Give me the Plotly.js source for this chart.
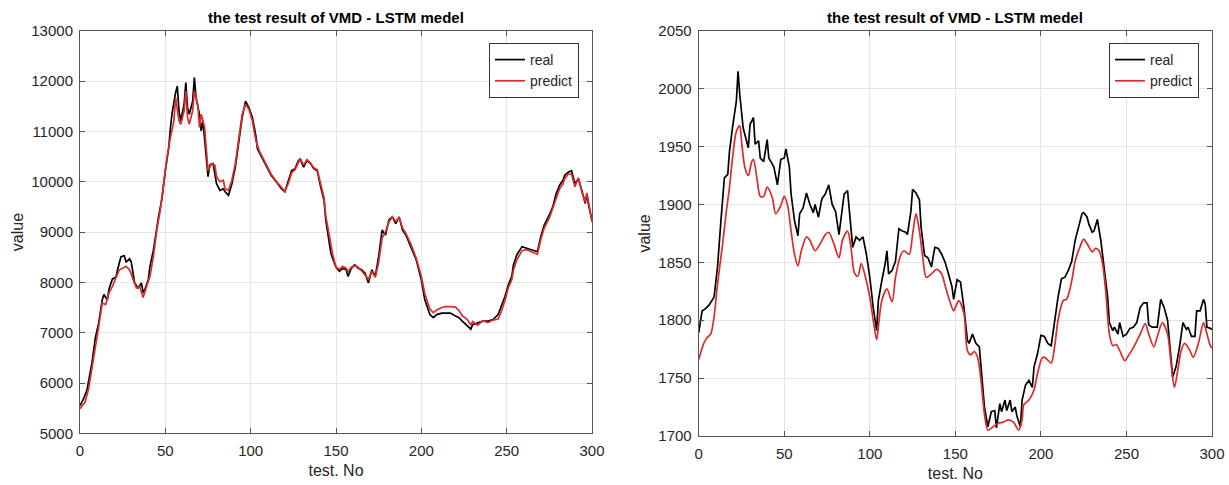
<!DOCTYPE html>
<html>
<head>
<meta charset="utf-8">
<script src="https://cdn.plot.ly/plotly-3.0.1.min.js"></script>
<style>html,body{margin:0;padding:0;background:#fff;}#chart{width:1229px;height:485px;}</style>
</head>
<body>
<div id="chart"></div>
<script>
// ---------- Left panel data ----------
const leftRealX = [0,2,4,5,7,9,11,13,14,16,17,19,21,22,24,26,27,29,30,32,34,36,37,38,40,41,43,46,48,50,52,53,54,56,57,58,59,61,62,63,64,66,67,68,70,71,72,73,75,76,78,80,82,84,85,87,89,91,93,95,97,99,101,103,104,106,108,110,112,115,118,120,122,124,126,128,129,131,133,135,137,139,141,143,144,146,147,148,150,152,154,156,157,159,161,163,165,167,169,171,173,175,177,179,181,183,185,187,189,191,194,197,200,202,205,207,209,212,214,217,220,222,224,227,229,230,233,236,239,242,245,247,249,251,253,254,256,259,262,265,268,270,272,275,277,279,281,283,284,286,288,290,292,294,296,297,298,300];
const leftReal = [5550,5680,5850,6010,6400,6900,7200,7650,7760,7650,7870,8070,8100,8250,8510,8530,8400,8470,8410,7990,7890,7990,7790,7860,8050,8320,8640,9300,9660,10220,10680,11080,11375,11770,11900,11410,11210,11540,11970,11470,11340,11600,12070,11670,11340,11010,11210,10850,10100,10330,10360,9960,9830,9860,9800,9730,9960,10290,10750,11280,11600,11470,11280,10920,10650,10520,10390,10260,10130,10000,9860,9800,10000,10220,10260,10420,10450,10290,10420,10360,10260,10220,9900,9630,9240,8840,8580,8480,8300,8220,8280,8250,8120,8280,8350,8280,8250,8180,7990,8250,8120,8510,9040,8940,9240,9300,9170,9300,9040,8940,8710,8450,8050,7660,7360,7300,7360,7390,7390,7390,7330,7300,7230,7130,7070,7160,7200,7230,7230,7260,7360,7530,7720,7950,8120,8350,8550,8710,8680,8640,8610,8910,9140,9340,9500,9760,9930,10030,10130,10190,10220,9960,10060,9830,9570,9760,9530,9240];
const leftPredX = [0,3,5,8,11,13,15,17,19,21,23,25,27,29,31,33,35,37,39,41,43,45,47,49,51,53,55,56,58,59,61,62,63,64,66,67,69,70,71,73,74,75,77,79,80,82,84,85,87,89,91,93,95,97,99,101,103,105,107,108,110,112,115,118,120,122,124,126,128,129,131,133,135,137,139,141,143,144,146,147,148,150,152,154,156,157,159,161,163,165,167,169,171,173,175,177,179,181,183,185,187,189,191,194,197,200,202,205,207,209,212,214,217,220,222,224,227,229,230,233,236,239,242,245,247,249,251,253,254,256,259,262,265,268,270,272,275,277,279,281,283,284,286,288,290,292,294,296,297,298,300];
const leftPred = [5490,5620,5880,6470,7130,7590,7560,7790,7920,8090,8250,8280,8320,8250,8050,7890,7920,7700,7920,8120,8510,9040,9430,9960,10490,10880,11210,11670,11210,11140,11410,11800,11280,11140,11410,11800,11540,11080,11340,11080,10620,10220,10360,10330,10100,10000,10030,9860,9830,10030,10360,10820,11340,11540,11440,11210,10820,10620,10490,10400,10280,10150,10010,9880,9810,9960,10180,10240,10400,10460,10330,10440,10370,10280,10240,9950,9680,9320,8950,8700,8560,8300,8260,8320,8280,8210,8300,8330,8300,8230,8150,8060,8220,8100,8400,8880,9000,9200,9300,9210,9290,9080,8970,8750,8480,8120,7780,7470,7400,7450,7500,7520,7520,7510,7440,7340,7260,7150,7220,7150,7240,7200,7250,7270,7430,7640,7900,8050,8250,8450,8630,8650,8600,8560,8850,9080,9280,9460,9680,9860,9960,10060,10150,10150,9900,10080,9800,9600,9780,9560,9200];

// ---------- Right panel data ----------
const rightRealX = [0,2,4,6,9,11,13,15,17,18,20,22,23,24,26,27,29,30,32,33,35,36,38,40,41,43,44,46,48,50,51,53,54,56,58,59,61,63,65,67,68,70,72,74,76,78,80,82,84,85,87,89,90,92,94,96,98,100,102,104,105,107,109,110,111,113,115,117,119,121,122,124,125,127,129,130,132,134,136,138,140,142,144,146,148,149,151,153,155,157,158,160,162,164,165,167,169,171,173,174,176,177,179,180,182,183,185,186,188,189,191,193,195,196,198,200,202,204,206,208,210,212,214,216,218,220,222,224,225,227,228,230,231,233,235,237,239,240,242,243,245,246,248,250,252,254,256,258,260,262,263,265,268,270,272,274,276,277,279,281,283,285,286,288,290,291,293,295,296,297,299,300];
const rightReal = [1789,1808,1810,1813,1820,1846,1886,1923,1926,1946,1969,1989,2015,1995,1966,1960,1949,1969,1975,1952,1955,1940,1937,1956,1940,1935,1932,1917,1939,1940,1948,1932,1909,1886,1873,1892,1897,1910,1900,1893,1900,1889,1905,1909,1917,1900,1894,1874,1900,1909,1912,1880,1863,1872,1869,1872,1857,1837,1811,1791,1817,1834,1849,1860,1840,1843,1851,1879,1877,1876,1874,1894,1913,1910,1904,1880,1856,1854,1846,1863,1862,1857,1850,1840,1829,1818,1835,1833,1811,1783,1780,1788,1780,1777,1757,1725,1708,1721,1722,1707,1728,1721,1731,1722,1731,1721,1725,1717,1708,1731,1744,1748,1742,1760,1771,1787,1786,1780,1778,1800,1820,1836,1837,1843,1851,1869,1880,1892,1893,1889,1883,1876,1877,1887,1869,1846,1820,1798,1791,1794,1788,1798,1786,1788,1793,1794,1798,1811,1815,1815,1796,1794,1794,1818,1811,1800,1771,1751,1760,1777,1798,1792,1794,1786,1786,1808,1808,1818,1814,1794,1793,1792];
const rightPredX = [0,3,5,7,9,11,14,16,18,20,22,24,25,27,29,31,32,34,36,38,40,43,45,48,50,52,54,56,58,60,63,65,68,71,74,76,79,82,84,87,89,91,93,95,97,100,102,104,105,107,110,113,115,118,120,123,125,127,129,131,133,136,139,142,144,146,149,150,152,155,157,159,161,163,165,167,169,172,175,178,181,184,187,189,190,193,196,198,201,203,206,208,210,213,215,218,220,223,225,227,230,232,234,236,238,240,242,244,246,249,251,255,258,261,263,266,268,271,274,276,278,280,282,284,287,289,292,295,296,299,300];
const rightPred = [1766,1780,1785,1788,1803,1831,1866,1892,1915,1943,1963,1968,1955,1932,1925,1937,1939,1923,1907,1907,1915,1906,1892,1899,1907,1899,1877,1857,1847,1860,1872,1869,1860,1866,1874,1876,1866,1854,1869,1877,1863,1841,1838,1849,1840,1820,1800,1783,1794,1817,1827,1816,1837,1856,1860,1857,1874,1892,1877,1854,1837,1840,1844,1840,1830,1820,1808,1811,1817,1806,1774,1770,1773,1768,1748,1719,1705,1708,1711,1712,1714,1712,1705,1714,1727,1731,1740,1754,1768,1767,1763,1777,1800,1817,1818,1834,1851,1864,1870,1866,1859,1862,1860,1849,1823,1788,1778,1779,1774,1765,1769,1779,1788,1797,1788,1777,1786,1798,1788,1763,1742,1757,1774,1780,1774,1768,1780,1798,1794,1778,1776];

const seriesNames = ['real', 'predict'];
const panelTitle = 'the test result of VMD - LSTM medel';
const xTitle = 'test. No';
const yTitle = 'value';

const FONT = 'Liberation Sans, Arial, Helvetica, sans-serif';
const TXT = '#262626';
const realColor = '#000000';
const predColor = '#dd2a2a';

const traces = [
  {x: leftRealX, y: leftReal, name: seriesNames[0], type: 'scatter', mode: 'lines',
   line: {color: realColor, width: 1.7}, xaxis: 'x', yaxis: 'y', legend: 'legend'},
  {x: leftPredX, y: leftPred, name: seriesNames[1], type: 'scatter', mode: 'lines',
   line: {color: predColor, width: 1.7}, xaxis: 'x', yaxis: 'y', legend: 'legend'},
  {x: rightRealX, y: rightReal, name: seriesNames[0], type: 'scatter', mode: 'lines',
   line: {color: realColor, width: 1.7}, xaxis: 'x2', yaxis: 'y2', legend: 'legend2'},
  {x: rightPredX, y: rightPred, name: seriesNames[1], type: 'scatter', mode: 'lines',
   line: {color: predColor, width: 1.7, shape: 'spline', smoothing: 0.8}, xaxis: 'x2', yaxis: 'y2', legend: 'legend2'}
];

function xax(domain, anchor) {
  return {
    domain: domain, anchor: anchor, range: [0, 300], dtick: 50, tick0: 0, tickformat: 'd',
    showgrid: true, gridcolor: '#e4e4e4', gridwidth: 1, zeroline: false,
    showline: true, linecolor: '#555', linewidth: 1, mirror: 'ticks',
    ticks: 'inside', ticklen: 5, tickcolor: '#555', ticklabelstandoff: 4,
    tickfont: {family: FONT, size: 15, color: TXT},
    title: {text: xTitle, font: {family: FONT, size: 16, color: TXT}, standoff: 6}
  };
}
function yax(domain, anchor, range, dtick) {
  return {
    domain: domain, anchor: anchor, range: range, dtick: dtick, tickformat: 'd',
    showgrid: true, gridcolor: '#e4e4e4', gridwidth: 1, zeroline: false,
    showline: true, linecolor: '#555', linewidth: 1, mirror: 'ticks',
    ticks: 'inside', ticklen: 5, tickcolor: '#555', ticklabelstandoff: 3,
    tickfont: {family: FONT, size: 15, color: TXT},
    title: {text: yTitle, font: {family: FONT, size: 16, color: TXT}, standoff: 3}
  };
}
const legendStyle = (xr) => ({
  x: xr, xanchor: 'right', y: 0.968, yanchor: 'top',
  bgcolor: '#ffffff', bordercolor: '#333', borderwidth: 1,
  font: {family: FONT, size: 14, color: TXT}, tracegroupgap: 0
});

const layout = {
  width: 1229, height: 485,
  margin: {l: 0, r: 0, t: 30, b: 49},
  paper_bgcolor: '#ffffff', plot_bgcolor: '#ffffff',
  showlegend: true,
  xaxis: xax([0.0651, 0.4817], 'y'),
  yaxis: yax([0.0066, 0.998], 'x', [5000, 13000], 1000),
  xaxis2: xax([0.5685, 0.9862], 'y2'),
  yaxis2: yax([0.0, 0.998], 'x2', [1700, 2050], 50),
  legend: legendStyle(0.4711),
  legend2: legendStyle(0.9756),
  annotations: [
    {text: panelTitle, xref: 'paper', yref: 'paper', x: 0.2734, y: 1.032, xanchor: 'center', yanchor: 'middle',
     showarrow: false, font: {family: FONT, size: 15, color: '#000', weight: 'bold'}},
    {text: panelTitle, xref: 'paper', yref: 'paper', x: 0.7774, y: 1.032, xanchor: 'center', yanchor: 'middle',
     showarrow: false, font: {family: FONT, size: 15, color: '#000', weight: 'bold'}}
  ]
};

Plotly.newPlot('chart', traces, layout, {displayModeBar: false, staticPlot: true});
</script>
</body>
</html>
